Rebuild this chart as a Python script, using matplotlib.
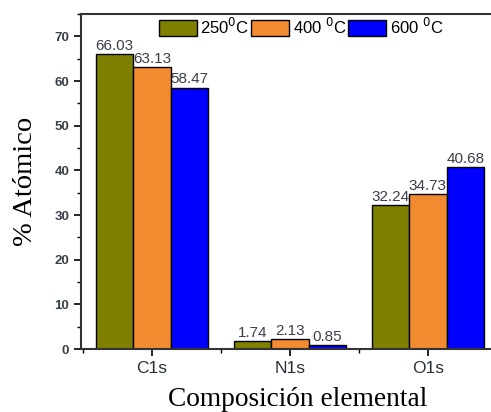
import matplotlib
matplotlib.use("Agg")
import matplotlib.pyplot as plt
import numpy as np
from matplotlib.ticker import MultipleLocator

categories = ["C1s", "N1s", "O1s"]
series_labels = ["250$^0$C", "400 $^0$C", "600 $^0$C"]
values_250 = [66.03, 1.74, 32.24]
values_400 = [63.13, 2.13, 34.73]
values_600 = [58.47, 0.85, 40.68]
value_text_250 = ["66.03", "1.74", "32.24"]
value_text_400 = ["63.13", "2.13", "34.73"]
value_text_600 = ["58.47", "0.85", "40.68"]
colors = ["#7f7f00", "#f28a30", "#0000ff"]

fig = plt.figure(figsize=(4.91, 4.12), dpi=100)
ax = fig.add_axes([81/491, 1-349/412, 1-81/491, (349-14)/412])

x = np.arange(len(categories))
w = 0.27
series = [values_250, values_400, values_600]
texts = [value_text_250, value_text_400, value_text_600]
for i, (vals, txt, c, lab) in enumerate(zip(series, texts, colors, series_labels)):
    pos = x + (i - 1) * w
    ax.bar(pos, vals, width=w, color=c, edgecolor="black", linewidth=1.0, label=lab)
    for p, v, t in zip(pos, vals, txt):
        ax.text(p, v + 0.3, t, ha="center", va="bottom", fontsize=11,
                family="Liberation Sans", color="#3a3f4a")

ax.set_xlim(-0.514, 2.457)
ax.set_ylim(0, 75)
ax.set_xticks(x)
ax.set_xticklabels(categories, fontsize=12.5, family="Liberation Sans", color="#2a2f3a")
ax.xaxis.set_minor_locator(MultipleLocator(0.5))
ax.yaxis.set_major_locator(MultipleLocator(10))
ax.yaxis.set_minor_locator(MultipleLocator(5))
for lab in ax.get_yticklabels():
    lab.set_family("Liberation Sans")
    lab.set_fontweight("bold")
    lab.set_fontsize(9.5)
    lab.set_color("#3a3f4a")
ax.tick_params(axis="both", which="major", direction="out", length=5, width=1.2)
ax.tick_params(axis="both", which="minor", direction="out", length=3, width=1.0)
ax.spines["right"].set_visible(False)
for s in ["left", "bottom", "top"]:
    ax.spines[s].set_linewidth(1.5)
    ax.spines[s].set_color("#333333")

ax.set_xlabel("Composición elemental", family="Liberation Serif", fontsize=19.7)
ax.xaxis.set_label_coords((298-81)/410, -38/335, transform=ax.transAxes)
ax.xaxis.label.set_va("top")
ax.set_ylabel("% Atómico", family="Liberation Serif", fontsize=20.5, labelpad=12)

fig.legend(loc="upper left", bbox_to_anchor=(156/491, 1-14/412), ncol=3, frameon=False,
           prop={"family": "Liberation Sans", "size": 12},
           handlelength=2.3, handleheight=1.1, handletextpad=0.2,
           columnspacing=0.1, borderpad=0.15, borderaxespad=0)

fig.savefig("out.png", dpi=100)
